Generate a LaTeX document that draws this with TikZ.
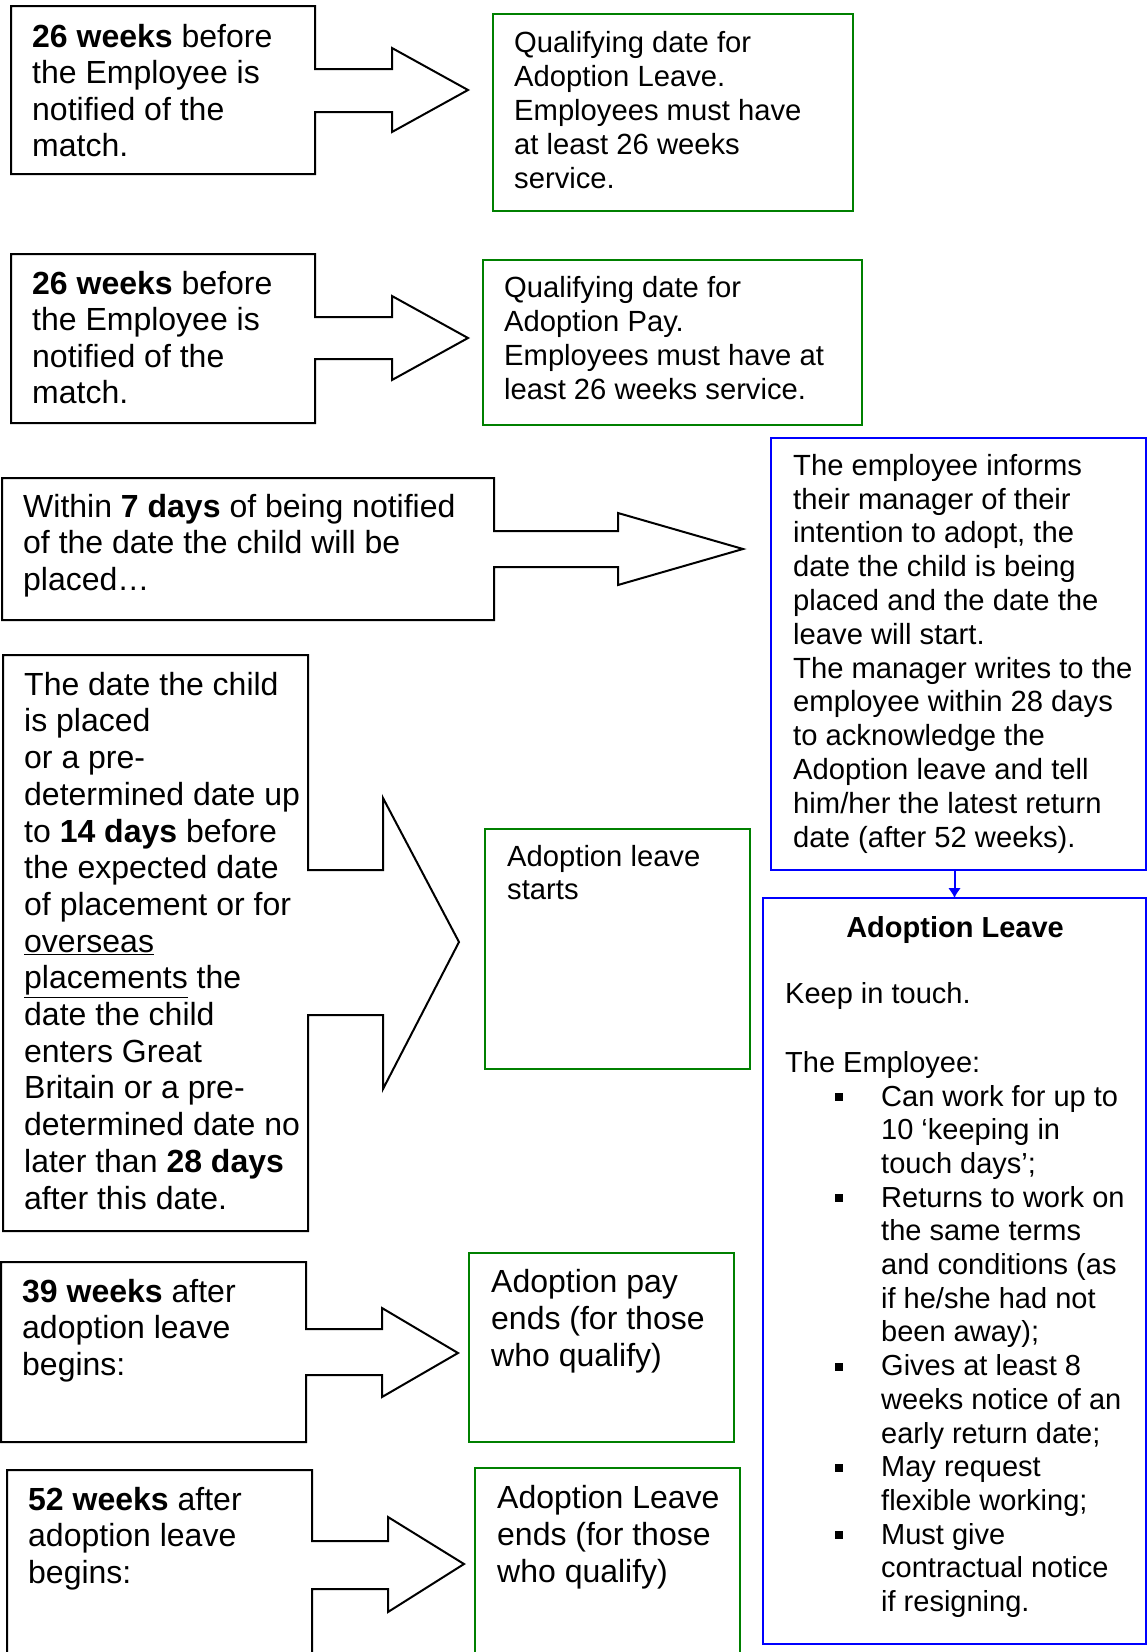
\documentclass[tikz,border=0pt]{standalone}
\usepackage{fontspec}
\setmainfont{Liberation Sans}
\usetikzlibrary{arrows.meta}
\definecolor{boxgreen}{RGB}{0,128,0}
\definecolor{boxblue}{RGB}{0,0,255}
\tikzset{
  callout/.style={draw=black,line width=2pt},
  greenbox/.style={draw=boxgreen,line width=2pt,anchor=north west,inner sep=0pt,outer sep=0pt},
  bluebox/.style={draw=boxblue,line width=2pt,anchor=north west,inner sep=0pt,outer sep=0pt},
  % text nodes sit on the baseline of their last line
  txt/.style={anchor=base west,inner sep=0pt,align=left},
  bigtxt/.style={txt,font=\fontsize{32pt}{36.5pt}\selectfont},
  midtxt/.style={txt,font=\fontsize{29.2pt}{33.8pt}\selectfont},
}
\begin{document}
\begin{tikzpicture}[x=1pt,y=-1pt]
		\useasboundingbox(0,0)rectangle(1147,1652);
		\clip(0,0)rectangle(1147,1652);
		% left column: boxes with arrows
		\draw[callout](11,6)--(315,6)--(315,69)--(392,69)--(392,48)--(468,90)--(392,132)--(392,112)--(315,112)--(315,174)--(11,174)--cycle;
		\node[bigtxt](wka)at(32,156.5){\textbf{26 weeks} before\\the Employee is\\notified of the\\match.};
		\draw[callout](11,254)--(315,254)--(315,317)--(392,317)--(392,296)--(468,338)--(392,380)--(392,359)--(315,359)--(315,423)--(11,423)--cycle;
		\node[bigtxt](wkb)at(32,403.5){\textbf{26 weeks} before\\the Employee is\\notified of the\\match.};
		\draw[callout](2,478)--(494,478)--(494,531)--(618,531)--(618,513)--(743,549)--(618,585)--(618,567)--(494,567)--(494,620)--(2,620)--cycle;
		\node[bigtxt](notify)at(23,590){Within \textbf{7 days} of being notified\\of the date the child will be\\placed…};
		\draw[callout](3,655)--(308,655)--(308,870)--(383,870)--(383,798)--(459,942)--(383,1089)--(383,1015)--(308,1015)--(308,1231)--(3,1231)--cycle;
		\node[txt,font=\fontsize{32pt}{36.7pt}\selectfont](placed)at(24,1209){The date the child\\is placed\\or a pre-\\determined date up\\to \textbf{14 days} before\\the expected date\\of placement or for\\\underline{overseas}\\\underline{placements} the\\date the child\\enters Great\\Britain or a pre-\\determined date no\\later than \textbf{28 days}\\after this date.};
		\draw[callout](1,1262)--(306,1262)--(306,1329)--(382,1329)--(382,1308)--(458,1353)--(382,1397)--(382,1375)--(306,1375)--(306,1442)--(1,1442)--cycle;
		\node[bigtxt](wkc)at(22,1375){\textbf{39 weeks} after\\adoption leave\\begins:};
		\draw[callout](7,1470)--(312,1470)--(312,1541)--(388,1541)--(388,1517)--(464,1564)--(388,1612)--(388,1589)--(312,1589)--(312,1670)--(7,1670)--cycle;
		\node[bigtxt](wkd)at(28,1583){\textbf{52 weeks} after\\adoption leave\\begins:};
		% green boxes
		\node[greenbox,minimum width=360pt,minimum height=197pt](qualleave)at(493,14){};
		\node[txt,font=\fontsize{29.2pt}{34pt}\selectfont](qualleavetxt)at(514,188){Qualifying date for\\Adoption Leave.\\Employees must have\\at least 26 weeks\\service.};
		\node[greenbox,minimum width=379pt,minimum height=165pt](qualpay)at(483,260){};
		\node[txt,font=\fontsize{29.2pt}{34pt}\selectfont](qualpaytxt)at(504,399){Qualifying date for\\Adoption Pay.\\Employees must have at\\least 26 weeks service.};
		\node[greenbox,minimum width=265pt,minimum height=240pt](starts)at(485,829){};
		\node[txt,font=\fontsize{29.2pt}{33pt}\selectfont](startstxt)at(507,899){Adoption leave\\starts};
		\node[greenbox,minimum width=265pt,minimum height=189pt](payends)at(469,1253){};
		\node[txt,font=\fontsize{32pt}{37pt}\selectfont](payendstxt)at(491,1366){Adoption pay\\ends (for those\\who qualify)};
		\node[greenbox,minimum width=265pt,minimum height=200pt](leaveends)at(475,1468){};
		\node[txt,font=\fontsize{32pt}{37pt}\selectfont](leaveendstxt)at(497,1582){Adoption Leave\\ends (for those\\who qualify)};
		% blue boxes
		\node[bluebox,minimum width=375pt,minimum height=432pt](inform)at(771,438){};
		\node[midtxt](informtxt)at(793,847){The employee informs\\their manager of their\\intention to adopt, the\\date the child is being\\placed and the date the\\leave will start.\\The manager writes to the\\employee within 28 days\\to acknowledge the\\Adoption leave and tell\\him/her the latest return\\date (after 52 weeks).};
		\node[bluebox,minimum width=383pt,minimum height=746pt](leave)at(763,898){};
		\draw[boxblue,line width=2pt,-{Latex[length=10pt,width=13pt]}](inform.south-|leave.north)--(leave.north);
		\node[anchor=base,inner sep=0pt,font=\fontsize{29pt}{33.7pt}\selectfont\bfseries](leavetitle)at(955,937){Adoption Leave};
		\node[txt,font=\fontsize{29pt}{33.7pt}\selectfont](keep)at(785,1003){Keep in touch.};
		\node[txt,font=\fontsize{29pt}{33.7pt}\selectfont](employee)at(785,1072){The Employee:};
		\node[txt,font=\fontsize{29pt}{33.7pt}\selectfont](items)at(881,1611.5){Can work for up to\\10 ‘keeping in\\touch days’;\\Returns to work on\\the same terms\\and conditions (as\\if he/she had not\\been away);\\Gives at least 8\\weeks notice of an\\early return date;\\May request\\flexible working;\\Must give\\contractual notice\\if resigning.};
		\foreach \k in {0,3,8,11,13}
			\fill(835,1106+33.7*\k-13)rectangle+(8,8);
	\end{tikzpicture}
\end{document}
